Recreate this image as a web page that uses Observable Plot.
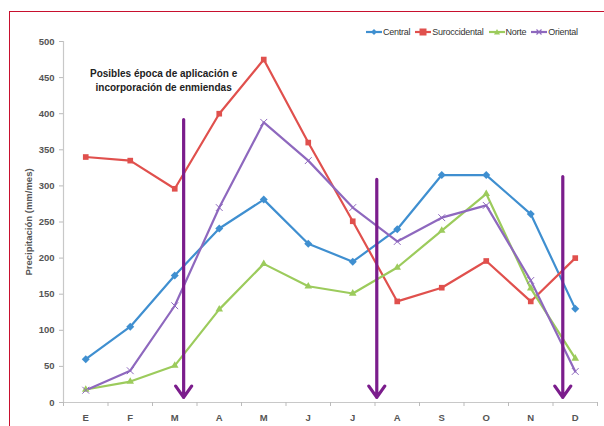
<!DOCTYPE html>
<html>
<head>
<meta charset="utf-8">
<script src="https://cdn.jsdelivr.net/npm/d3@7"></script>
<script src="https://cdn.jsdelivr.net/npm/@observablehq/plot@0.6"></script>
<style>
  body { margin: 0; background: #fff; }
  #wrap { position: relative; width: 604px; height: 426px; overflow: hidden;
          font-family: "Liberation Sans Narrow", "Arial Narrow", "Liberation Sans", sans-serif; }
  #frame { position: absolute; left: 9px; top: 11px; width: 620px; height: 440px;
           border-top: 1.5px solid #c8102e; border-left: 1.5px solid #c8102e; }
  #chart { position: absolute; left: 0; top: 0; }
  #legend { position: absolute; left: 364px; top: 26px; display: flex; gap: 5px;
            font-size: 9px; letter-spacing: -0.25px; color: #333; background: #fff; padding: 1px 2px; }
  #legend span.item { display: flex; align-items: center; }
  #legend svg { margin-right: 1px; }
</style>
</head>
<body>
<div id="wrap">
  <div id="frame"></div>
  <div id="chart"></div>
  <div id="legend"></div>
</div>
<script>
// Monthly precipitation (mm/mes) by region
const months = ["E", "F", "M", "A", "M", "J", "J", "A", "S", "O", "N", "D"];
const regions = ["Central", "Suroccidental", "Norte", "Oriental"];
const central       = [60, 105, 176, 241, 281, 220, 195, 240, 315, 315, 261, 130];
const suroccidental = [340, 335, 296, 400, 475, 360, 251, 140, 159, 196, 140, 200];
const norte         = [18, 29, 51, 129, 192, 161, 151, 187, 238, 289, 158, 61];
const oriental      = [17, 44, 134, 270, 388, 335, 270, 223, 256, 273, 169, 43];
const colors  = ["#3f8fd0", "#e0504d", "#9ccb5c", "#8e68be"];
const symbols = ["diamond2", "square2", "triangle2", "times"];

// Suggested application windows (month position, arrow top, arrow tip)
const windowX    = [2.2, 6.54, 10.72];
const windowTop  = [392, 309, 313];
const windowTip  = [7, 7, 7];
const noteText = "Posibles época de aplicación e\nincorporación de enmiendas";
const noteX = 1.75, noteY = 447;

const seriesValues = [central, suroccidental, norte, oriental];
const rows = regions.flatMap((r, k) =>
  seriesValues[k].map((v, i) => ({region: r, i, value: v})));
const arrows = windowX.map((x, k) => ({x, top: windowTop[k], tip: windowTip[k]}));
const boundaries = d3.range(months.length + 1).map(i => i - 0.5);

const chart = Plot.plot({
  width: 604,
  height: 426,
  marginLeft: 63,
  marginRight: 7,
  marginTop: 41,
  marginBottom: 24,
  style: {fontFamily: '"Liberation Sans Narrow", "Arial Narrow", sans-serif', fontSize: "10px", background: "transparent"},
  x: {type: "linear", domain: [-0.5, months.length - 0.5]},
  y: {domain: [0, 500]},
  color: {domain: regions, range: colors},
  symbol: {domain: regions, range: symbols},
  marks: [
    Plot.ruleY([0], {stroke: "#c8c8c8", strokeWidth: 1.2}),
    Plot.ruleX([-0.5], {stroke: "#c8c8c8", strokeWidth: 1.2}),
    Plot.axisY({ticks: d3.range(0, 501, 50), tickSize: 4, tickPadding: 5, stroke: "#bbb",
                fill: "#555", fontSize: 9.5, fontWeight: "bold",
                label: "Precipitación (mm/mes)", labelAnchor: "center", labelArrow: "none",
                labelOffset: 38}),
    Plot.axisX({ticks: boundaries, tickSize: 4, tickFormat: () => "", stroke: "#bbb"}),
    Plot.axisX({ticks: d3.range(months.length), tickSize: 0, tickPadding: 12,
                tickFormat: i => months[i], fill: "#555", fontSize: 9.5, fontWeight: "bold", label: null}),
    Plot.line(rows, {x: "i", y: "value", z: "region", stroke: "region", strokeWidth: 2.2}),
    Plot.dot(rows.filter(d => d.region !== "Oriental"), {x: "i", y: "value", symbol: "region", fill: "region", r: 3.6}),
    Plot.dot(rows.filter(d => d.region === "Oriental"), {x: "i", y: "value", symbol: "region", stroke: "region", r: 3.2, strokeWidth: 1}),
    Plot.arrow(arrows, {x1: "x", y1: "top", x2: "x", y2: "tip", stroke: "#7b1d8c",
                        strokeWidth: 3.2, headLength: 6.5, headAngle: 70}),
    Plot.text([noteText], {x: noteX, y: noteY, text: d => d, fontWeight: "bold",
                           fontSize: 10, fill: "#222", lineHeight: 1.35})
  ]
});
chart.querySelectorAll("g[aria-label='y-axis label'] text").forEach(t => t.setAttribute("font-weight", "bold"));
document.getElementById("chart").appendChild(chart);

// Legend
const legend = document.getElementById("legend");
const legendIcon = {
  Central: '<path d="M8,2 L11,5 L8,8 L5,5Z" fill="#3f8fd0"/>',
  Suroccidental: '<rect x="4.5" y="1.5" width="7" height="7" fill="#e0504d"/>',
  Norte: '<path d="M8,2 L11,7.5 L5,7.5Z" fill="#9ccb5c"/>',
  Oriental: '<path d="M5.5,2.5 L10.5,7.5 M10.5,2.5 L5.5,7.5" stroke="#8e68be" stroke-width="1.2"/>'
};
regions.forEach((r, k) => {
  const item = document.createElement("span");
  item.className = "item";
  item.innerHTML = `<svg width="16" height="10"><line x1="0" x2="16" y1="5" y2="5" stroke="${colors[k]}" stroke-width="2.2"/>${legendIcon[r]}</svg><span>${r}</span>`;
  legend.appendChild(item);
});
</script>
</body>
</html>
